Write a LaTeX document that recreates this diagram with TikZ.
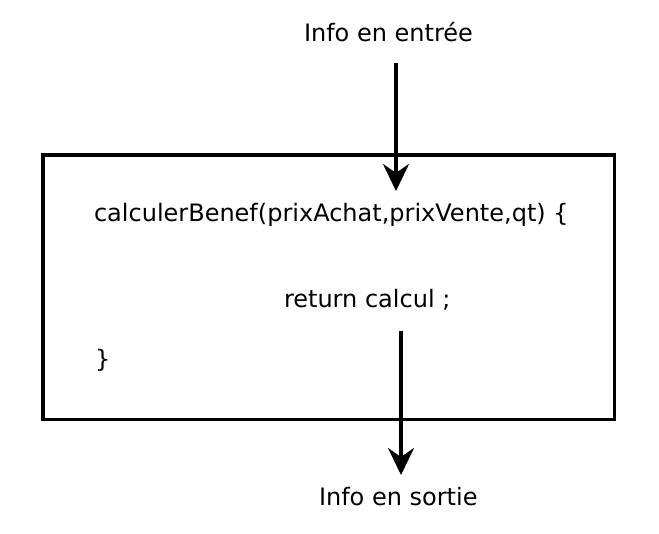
\documentclass[tikz,border=0pt]{standalone}
\usepackage{fontspec}
\setmainfont{DejaVu Sans}
\usetikzlibrary{arrows.meta}
\begin{document}
\begin{tikzpicture}[x=1pt,y=-1pt,
  lbl/.style={inner sep=0pt,outer sep=0pt,font=\fontsize{24}{29}\selectfont,text=black},
  frame/.style={draw=black,line width=3.5pt},
  flow/.style={draw=black,line width=3.5pt,-{Stealth[length=27pt,width=26pt,inset=9pt]}}]
\useasboundingbox (0,0) rectangle (659,534);
\node[frame,minimum width=571.5pt,minimum height=264.5pt,inner sep=0pt,anchor=north west] (box) at (41,153.5) {};
\node[lbl,anchor=base west] (intext) at (304,42) {Info en entrée};
\node[lbl,anchor=base west] (outtext) at (319,505) {Info en sortie};
\node[lbl,anchor=base west] (sig) at (94,222) {calculerBenef(prixAchat,prixVente,qt) \{};
\node[lbl,anchor=base west] (ret) at (284,308) {return calcul ;};
\node[lbl,anchor=base west] (close) at (95,368) {\}};
\coordinate (a1s) at (396,63);
\coordinate (a1e) at (396,191);
\coordinate (a2s) at (401,331);
\coordinate (a2e) at (401,475);
\draw[flow] (a1s) -- (a1e);
\draw[flow] (a2s) -- (a2e);
\end{tikzpicture}
\end{document}
